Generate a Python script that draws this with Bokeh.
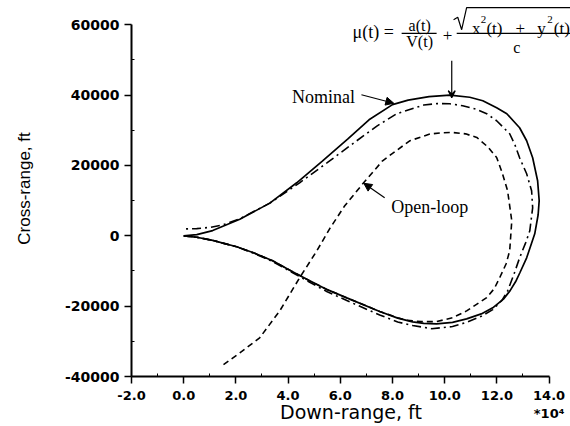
import math
from bokeh.plotting import figure
from bokeh.models import (Range1d, FixedTicker, PrintfTickFormatter, Label,
                          Arrow, NormalHead, VeeHead)
from bokeh.embed import file_html
from bokeh.resources import INLINE

# ---- data (down-range in units of 1e4 ft, cross-range in ft) ----
nominal_x = [0.0, 0.5, 1.11, 2.03, 2.7, 3.41, 4.1, 4.83, 5.5, 6.25, 7.51, 8.2,
             8.77, 9.2, 9.69, 10.3, 10.84, 11.4, 11.84, 12.25, 12.50, 12.72,
             12.88, 13.14, 13.45, 13.58, 13.62, 13.56, 13.37, 13.14, 12.87,
             12.38, 11.99, 11.46, 10.96, 10.2, 9.4, 8.6, 8.0, 7.1, 6.28, 5.3,
             4.33, 3.3, 2.15, 1.11, 0.5, 0.0]
nominal_y = [0, -400, -1300, -3100, -4900, -7110, -9900, -12800, -15300,
             -17640, -21500, -23400, -24470, -24900, -25040, -24600, -23610,
             -22200, -20480, -18000, -15650, -13000, -10500, -6260, 570, 6000,
             10000, 15650, 22190, 27030, 30730, 34710, 36420, 38410, 39400,
             40000, 39600, 38600, 37300, 33000, 27500, 21200, 15080, 9300,
             4700, 1500, 350, 0]

closed_x = [0.0, 0.5, 1.11, 2.03, 2.7, 3.41, 4.1, 4.83, 5.5, 6.25, 7.51, 8.2,
            8.77, 9.5, 10.3, 10.84, 11.4, 11.84, 12.2, 12.41, 12.65, 12.87,
            13.1, 13.26, 13.37, 13.33, 13.14, 12.87, 12.7, 12.49, 11.99, 11.61,
            11.2, 10.69, 10.19, 9.7, 9.2, 8.16, 7.4, 6.63, 5.5, 4.44, 3.3,
            2.15, 1.5, 1.0, 0.5, 0.0]
closed_y = [0, -400, -1300, -3150, -5000, -7300, -10200, -13200, -15900,
            -18400, -22500, -24500, -25500, -26400, -25800, -24600, -22900,
            -21000, -18300, -15650, -11000, -6260, -2000, 1420, 7970, 12800,
            17640, 22190, 25700, 29020, 32720, 34710, 36000, 36990, 37550,
            37600, 37200, 34710, 31200, 27030, 20800, 15080, 9300, 4840, 3100,
            2400, 2050, 1950]

open_x = [0.0, 0.5, 1.11, 2.03, 2.7, 3.41, 4.1, 4.83, 5.5, 6.25, 7.51, 8.2,
          8.54, 9.1, 9.69, 10.3, 10.84, 11.61, 11.9, 12.11, 12.35, 12.49,
          12.57, 12.41, 12.2, 11.99, 11.65, 11.23, 10.8, 10.31, 9.9, 9.43,
          8.66, 7.62, 6.86, 6.17, 5.59, 5.10, 4.44, 3.68, 2.91, 2.15, 1.46]
open_y = [0, -400, -1300, -3100, -4900, -7110, -9900, -12800, -15300, -17640,
          -21500, -23300, -24000, -24400, -24380, -23300, -21340, -17550,
          -15000, -11860, -8000, -4270, 4270, 12800, 18000, 22280, 25300,
          27970, 29000, 29390, 29300, 28930, 27030, 21340, 14790, 8540, 1990,
          -4270, -11950, -21340, -29020, -33290, -36990]

x_major = [-2, 0, 2, 4, 6, 8, 10, 12, 14]
x_minor = [-1, 1, 3, 5, 7, 9, 11, 13]
y_major = [-40000, -20000, 0, 20000, 40000, 60000]
y_minor = [-30000, -10000, 10000, 30000, 50000]
x_multiplier = "*10⁴"

SANS = "DejaVu Sans"
SERIF = "Liberation Serif"

p = figure(frame_width=439, frame_height=376,
           x_range=Range1d(-2, 14.82), y_range=Range1d(-40000, 66918),
           output_backend="svg", toolbar_location=None,
           min_border_left=131, min_border_right=0,
           min_border_top=0, min_border_bottom=50)
p.outline_line_color = None
p.grid.visible = False
p.background_fill_color = "white"
p.border_fill_color = "white"

for ax, maj, mnr, fmt, bnd in ((p.xaxis[0], x_major, x_minor, "%.1f", (-2, 14)),
                               (p.yaxis[0], y_major, y_minor, "%d", (-40000, 60000))):
    ax.ticker = FixedTicker(ticks=maj, minor_ticks=mnr)
    ax.formatter = PrintfTickFormatter(format=fmt)
    ax.bounds = bnd
    ax.axis_line_width = 2
    ax.axis_line_color = "black"
    ax.major_tick_out = 7
    ax.major_tick_in = 0
    ax.major_tick_line_width = 1.5
    ax.minor_tick_in = 3
    ax.minor_tick_out = 0
    ax.minor_tick_line_width = 1
    ax.major_label_text_font = SANS
    ax.major_label_text_font_style = "bold"
    ax.major_label_text_color = "black"

p.xaxis.major_label_text_font_size = "13px"
p.yaxis.major_label_text_font_size = "14px"
p.xaxis.major_label_overrides = {14: "14.0\n" + x_multiplier}
p.xaxis.major_label_standoff = 4
p.yaxis.major_label_standoff = 5

p.xaxis.axis_label = "Down-range, ft"
p.xaxis.axis_label_text_font = SANS
p.xaxis.axis_label_text_font_style = "normal"
p.xaxis.axis_label_text_font_size = "19px"
p.xaxis.axis_label_standoff = -23
p.xaxis.axis_label_text_color = "black"

p.yaxis.axis_label = "Cross-range, ft"
p.yaxis.axis_label_text_font = "Liberation Sans"
p.yaxis.axis_label_text_font_style = "normal"
p.yaxis.axis_label_text_font_size = "17px"
p.yaxis.axis_label_standoff = 28
p.yaxis.axis_label_text_color = "black"

# curves
p.line(nominal_x, nominal_y, line_color="black", line_width=1.7)
p.line(closed_x, closed_y, line_color="black", line_width=1.6,
       line_dash="9 4 2 4")
p.line(open_x, open_y, line_color="black", line_width=1.6, line_dash="6 4")


def lab(x, y, text, size, align="center", baseline="middle", font=SERIF):
    p.add_layout(Label(x=x, y=y, text=text, text_font=font,
                       text_font_size=size, text_align=align,
                       text_baseline=baseline, text_color="black"))


# annotations
lab(5.36, 39550, "Nominal", "18px")
p.add_layout(Arrow(end=NormalHead(size=8, fill_color="black", line_color="black"),
                   x_start=6.81, y_start=40120, x_end=8.05, y_end=37700,
                   line_color="black", line_width=1.2))
lab(9.43, 8250, "Open-loop", "18px")
p.add_layout(Arrow(end=NormalHead(size=8, fill_color="black", line_color="black"),
                   x_start=7.70, y_start=10810, x_end=6.9, y_end=14950,
                   line_color="black", line_width=1.2))

# formula mu(t) = a(t)/V(t) + sqrt(x^2(t)+y^2(t))/c
lab(7.26, 57900, "μ(t) =", "18px")
lab(9.04, 59740, "a(t)", "16px")
lab(9.04, 55190, "V(t)", "16px")
p.line([8.35, 9.69], [57550, 57550], line_color="black", line_width=1.2)
lab(10.11, 56900, "+", "17px")
p.line([10.34, 10.50, 10.65, 10.84, 14.82], [61450, 62160, 58610, 64870, 64870],
       line_color="black", line_width=1.2)
lab(11.05, 58890, "x", "17px", "left", "alphabetic")
lab(11.38, 61600, "2", "11px", "left", "alphabetic")
lab(11.60, 58890, "(t)", "17px", "left", "alphabetic")
lab(12.90, 58890, "+", "17px", "center", "alphabetic")
lab(13.55, 58890, "y", "17px", "left", "alphabetic")
lab(13.93, 61600, "2", "11px", "left", "alphabetic")
lab(14.18, 58890, "(t)", "17px", "left", "alphabetic")
p.line([10.46, 14.82], [57550, 57550], line_color="black", line_width=1.2)
lab(12.76, 53490, "c", "16px")
p.add_layout(Arrow(end=VeeHead(size=7, line_color="black", line_width=1.2),
                   x_start=10.27, y_start=49790, x_end=10.27, y_end=39300,
                   line_color="black", line_width=1.2))

open("out.html", "w").write(file_html(p, INLINE))
